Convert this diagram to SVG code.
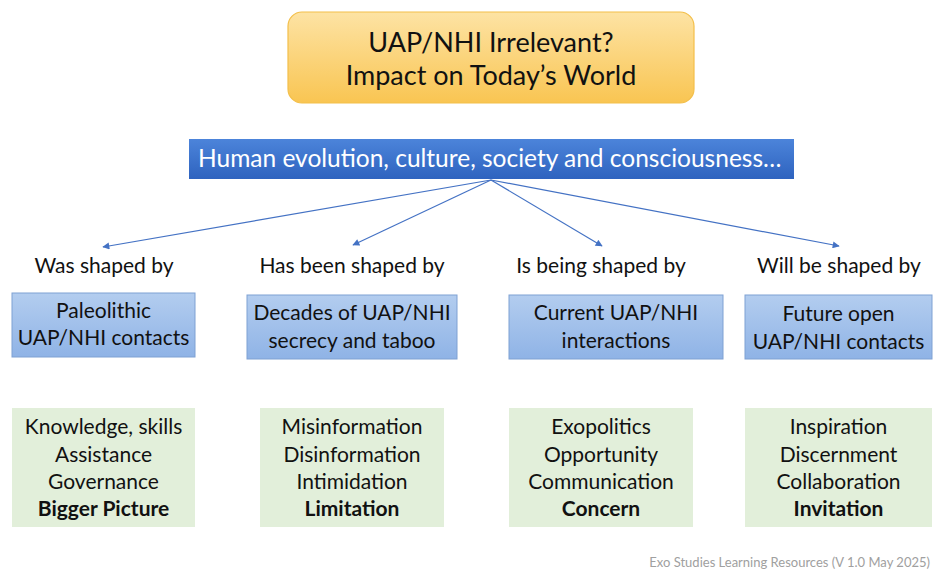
<svg xmlns="http://www.w3.org/2000/svg" width="942" height="582" viewBox="0 0 942 582">
<defs>
<linearGradient id="gOrange" x1="0" y1="0" x2="0" y2="1">
<stop offset="0" stop-color="#fde3a4"/>
<stop offset="1" stop-color="#f9c552"/>
</linearGradient>
<linearGradient id="gBlue" x1="0" y1="0" x2="0" y2="1">
<stop offset="0" stop-color="#4c84da"/>
<stop offset="1" stop-color="#2e63bf"/>
</linearGradient>
<linearGradient id="gLight" x1="0" y1="0" x2="0" y2="1">
<stop offset="0" stop-color="#b3cdef"/>
<stop offset="1" stop-color="#8fb3e6"/>
</linearGradient>
<marker id="arr" viewBox="0 0 10 10" refX="9" refY="5" markerWidth="8" markerHeight="7" orient="auto" markerUnits="userSpaceOnUse">
<path d="M0,0 L10,5 L0,10 z" fill="#4472c4"/>
</marker>
</defs>
<style>
text{font-family:Lato,"Open Sans","Liberation Sans",sans-serif;fill:#111;text-anchor:middle}
.t26{font-size:27px}
.t20{font-size:21px}
.b{font-weight:bold}
.lb{fill:url(#gLight);stroke:#7fa1d3;stroke-width:1}
.gr{fill:#e2efda}
.conn{stroke:#4472c4;stroke-width:1.2;fill:none;marker-end:url(#arr)}
</style>
<rect width="942" height="582" fill="#fff"/>
<g id="title">
<rect x="288" y="12" width="406" height="91" rx="14" fill="url(#gOrange)" stroke="#f3bf4a" stroke-width="1.2"/>
<text class="t26" x="491" y="52">UAP/NHI Irrelevant?</text>
<text class="t26" x="491" y="85">Impact on Today’s World</text>
</g>
<g id="banner">
<rect x="189" y="139" width="605" height="40" fill="url(#gBlue)"/>
<text x="198" y="167" style="font-size:24.5px;fill:#fff;text-anchor:start">Human evolution, culture, society and consciousness…</text>
</g>
<g id="connectors">
<line class="conn" x1="491" y1="180" x2="103" y2="247"/>
<line class="conn" x1="491" y1="180" x2="353" y2="245"/>
<line class="conn" x1="491" y1="180" x2="602" y2="246"/>
<line class="conn" x1="491" y1="180" x2="839" y2="246"/>
</g>
<g id="label1"><text class="t20" x="104" y="273">Was shaped by</text></g>
<g id="label2"><text class="t20" x="352" y="273">Has been shaped by</text></g>
<g id="label3"><text class="t20" x="601" y="273">Is being shaped by</text></g>
<g id="label4"><text class="t20" x="839" y="273">Will be shaped by</text></g>
<g id="src1">
<rect class="lb" x="12" y="293" width="183" height="64"/>
<text class="t20" x="103.5" y="318">Paleolithic</text>
<text class="t20" x="103.5" y="345">UAP/NHI contacts</text>
</g>
<g id="src2">
<rect class="lb" x="247" y="295" width="210" height="64"/>
<text class="t20" x="352" y="320">Decades of UAP/NHI</text>
<text class="t20" x="352" y="348">secrecy and taboo</text>
</g>
<g id="src3">
<rect class="lb" x="509" y="295" width="214" height="64"/>
<text class="t20" x="616" y="320">Current UAP/NHI</text>
<text class="t20" x="616" y="348">interactions</text>
</g>
<g id="src4">
<rect class="lb" x="745" y="295" width="187" height="64"/>
<text class="t20" x="838.5" y="321">Future open</text>
<text class="t20" x="838.5" y="349">UAP/NHI contacts</text>
</g>
<g id="out1">
<rect class="gr" x="12" y="408" width="183" height="119"/>
<text class="t20" x="103.5" y="434">Knowledge, skills</text>
<text class="t20" x="103.5" y="462">Assistance</text>
<text class="t20" x="103.5" y="489">Governance</text>
<text class="t20 b" x="103.5" y="516">Bigger Picture</text>
</g>
<g id="out2">
<rect class="gr" x="260" y="408" width="184" height="119"/>
<text class="t20" x="352" y="434">Misinformation</text>
<text class="t20" x="352" y="462">Disinformation</text>
<text class="t20" x="352" y="489">Intimidation</text>
<text class="t20 b" x="352" y="516">Limitation</text>
</g>
<g id="out3">
<rect class="gr" x="509" y="408" width="184" height="119"/>
<text class="t20" x="601" y="434">Exopolitics</text>
<text class="t20" x="601" y="462">Opportunity</text>
<text class="t20" x="601" y="489">Communication</text>
<text class="t20 b" x="601" y="516">Concern</text>
</g>
<g id="out4">
<rect class="gr" x="745" y="408" width="187" height="119"/>
<text class="t20" x="838.5" y="434">Inspiration</text>
<text class="t20" x="838.5" y="462">Discernment</text>
<text class="t20" x="838.5" y="489">Collaboration</text>
<text class="t20 b" x="838.5" y="516">Invitation</text>
</g>
<g id="footer">
<text x="930" y="567" style="font-size:13px;fill:#a0a0a0;text-anchor:end">Exo Studies Learning Resources (V 1.0 May 2025)</text>
</g>
</svg>
